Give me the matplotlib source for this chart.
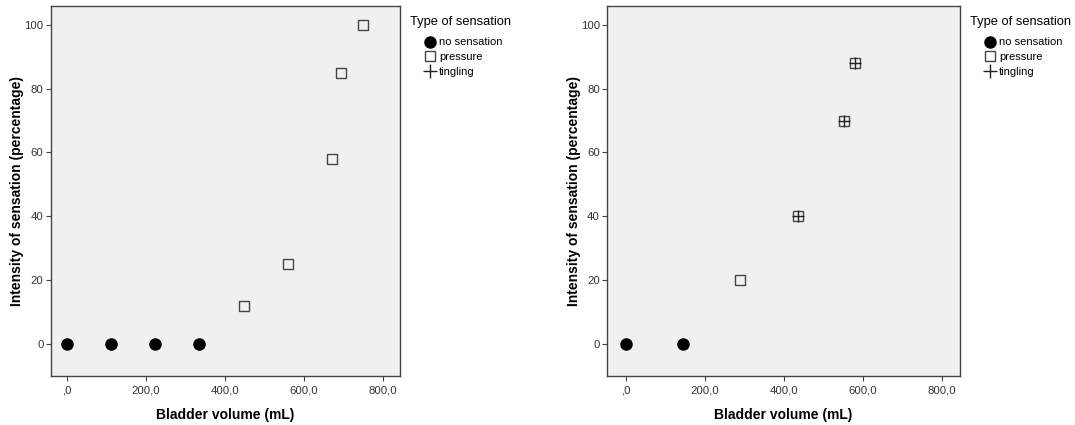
import matplotlib
matplotlib.use("Agg")
import matplotlib.pyplot as plt
from matplotlib.lines import Line2D
from matplotlib.ticker import FuncFormatter

plt.rcParams['font.family'] = ['Liberation Sans', 'DejaVu Sans']

# Left panel data
left_none_x = [0, 112, 224, 336]
left_none_y = [0, 0, 0, 0]
left_pressure_x = [448, 560, 671, 694, 750]
left_pressure_y = [12, 25, 58, 85, 100]
left_tingling_x = []
left_tingling_y = []

# Right panel data
right_none_x = [0, 145]
right_none_y = [0, 0]
right_pressure_x = [290, 435, 552, 580]
right_pressure_y = [20, 40, 70, 88]
right_tingling_x = [435, 552, 580]
right_tingling_y = [40, 70, 88]

x_ticks = [0, 200, 400, 600, 800]
y_ticks = [0, 20, 40, 60, 80, 100]
legend_labels = ["no sensation", "pressure", "tingling"]

W, H = 1075, 425
fig = plt.figure(figsize=(W / 100, H / 100), dpi=100)

def fmt(v, pos):
    s = f"{v:.1f}".replace(".", ",")
    if s.startswith("0,"):
        s = s[1:]
    return s

def panel(rect, xlim, nx, ny, px, py, tx, ty):
    ax = fig.add_axes(rect)
    ax.set_facecolor("#f0f0f0")
    ax.plot(nx, ny, 'o', ms=8, color='black', ls='none')
    ax.plot(px, py, 's', ms=7.5, mfc='none', mec='#444444', mew=1.0, ls='none')
    if tx:
        ax.plot(tx, ty, '+', ms=8, color='#222222', mew=1.0, ls='none')
    ax.set_xlim(*xlim)
    ax.set_ylim(-10, 106)
    ax.set_xticks(x_ticks)
    ax.set_yticks(y_ticks)
    ax.xaxis.set_major_formatter(FuncFormatter(fmt))
    ax.tick_params(direction='out', length=3.6, width=0.8, color='#444444',
                   labelsize=8.2, labelcolor='#333333', pad=1.7)
    ax.tick_params(axis='x', pad=3.5)
    for s in ax.spines.values():
        s.set_color('#444444')
        s.set_linewidth(1.0)
    ax.set_xlabel("Bladder volume (mL)", fontsize=10, fontweight='bold', labelpad=9)
    ax.set_ylabel("Intensity of sensation (percentage)", fontsize=10, fontweight='bold', labelpad=0)
    handles = [
        Line2D([], [], marker='o', ls='none', ms=8, color='black'),
        Line2D([], [], marker='s', ls='none', ms=7.5, mfc='none', mec='#444444'),
        Line2D([], [], marker='+', ls='none', ms=10, color='#222222'),
    ]
    leg = ax.legend(handles, legend_labels, title="Type of sensation", loc='upper left',
                    bbox_to_anchor=(1.0, 1.0), frameon=False, fontsize=8,
                    title_fontsize=9.3, handlelength=3.6, handletextpad=-0.95,
                    labelspacing=0.43, borderaxespad=0.5, alignment='left')
    leg._legend_box.sep = 7
    return ax

panel([50.8 / W, 1 - 375.7 / H, 348.7 / W, 370 / H], (-40, 842),
      left_none_x, left_none_y, left_pressure_x, left_pressure_y,
      left_tingling_x, left_tingling_y)
panel([607.2 / W, 1 - 375.7 / H, 352.4 / W, 370 / H], (-47, 845),
      right_none_x, right_none_y, right_pressure_x, right_pressure_y,
      right_tingling_x, right_tingling_y)

fig.savefig("out.png", dpi=100)
